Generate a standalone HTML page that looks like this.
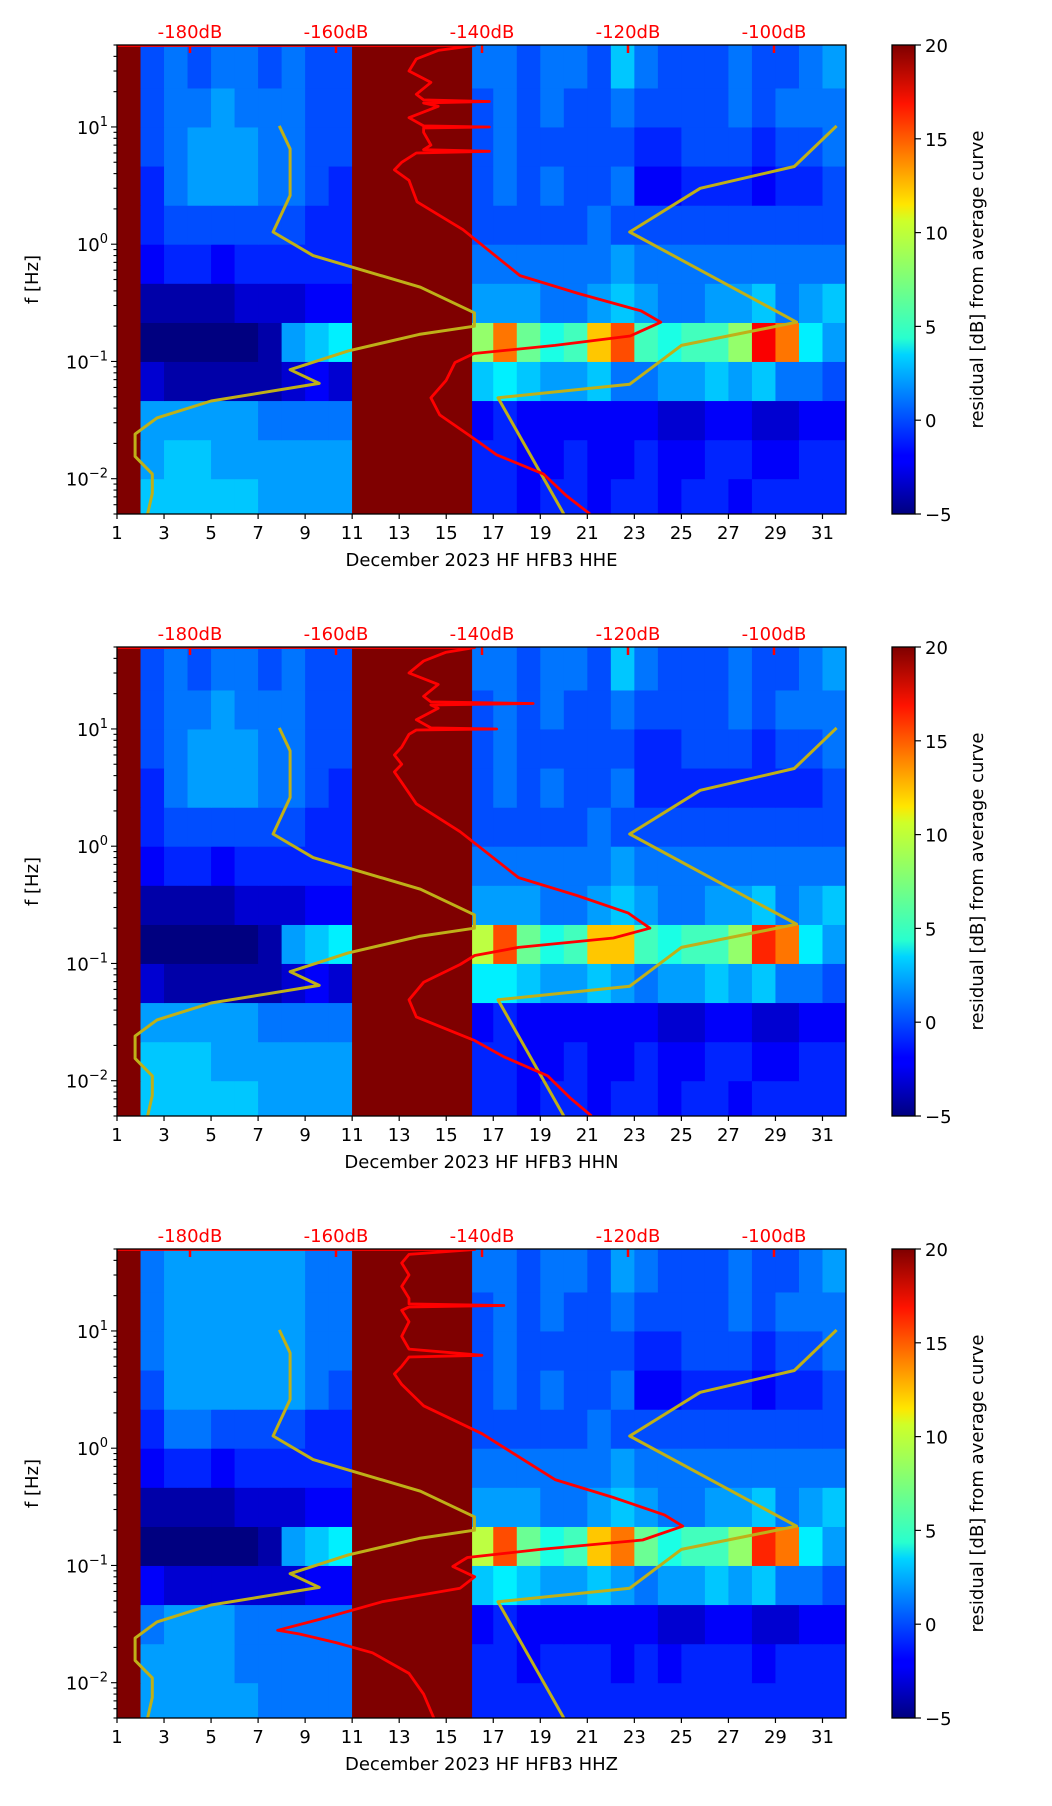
<!DOCTYPE html>
<html><head><meta charset="utf-8"><style>
html,body{margin:0;padding:0;background:#fff;}
svg{display:block;font-family:"DejaVu Sans","Liberation Sans",sans-serif;}
</style></head><body>
<svg id="fig" width="1052" height="1806" viewBox="0 0 1052 1806" xmlns="http://www.w3.org/2000/svg">
<defs>
<linearGradient id="jet" x1="0" y1="1" x2="0" y2="0">
<stop offset="0" stop-color="#00007f"/><stop offset="0.11" stop-color="#0000ff"/><stop offset="0.125" stop-color="#0000ff"/>
<stop offset="0.34" stop-color="#00d4ff"/><stop offset="0.375" stop-color="#29ffce"/><stop offset="0.5" stop-color="#7dff7a"/>
<stop offset="0.625" stop-color="#ceff29"/><stop offset="0.66" stop-color="#ffe600"/><stop offset="0.875" stop-color="#ff1300"/>
<stop offset="1" stop-color="#7f0000"/>
</linearGradient>
</defs>
</svg>
<script>
// ---- data ----
const days = [1,2,3,4,5,6,7,8,9,10,11,12,13,14,15,16,17,18,19,20,21,22,23,24,25,26,27,28,29,30,31];
const bandEdges = [0.005,0.01,0.0215,0.0464,0.1,0.215,0.464,1,2.15,4.64,10,21.5,50];
const channels = ["HHE","HHN","HHZ"];
const xTicks = [1,3,5,7,9,11,13,15,17,19,21,23,25,27,29,31];
const dbTicks = [-180,-160,-140,-120,-100];
const cbTicks = [-5,0,5,10,15,20];
const maskRanges = [[1,2],[11,16.1]];
const M = 20;
// rows bottom (b0) to top (b11), 31 days each
const gridHHE = [
[M,3,3,3,3,3,2,2,2,2,M,M,M,M,M,-1,-1,-2,-1,-1,-2,-1,-1,-2,-1,-1,-2,-1,-1,-1,-1],
[M,2,3,3,2,2,2,2,2,2,M,M,M,M,M,-1,-1,-2,-2,-1,-2,-2,-1,-2,-2,-1,-1,-2,-2,-1,-1],
[M,2,2,2,2,2,1,1,1,1,M,M,M,M,M,-2,-1,-2,-2,-2,-2,-2,-2,-3,-3,-2,-2,-3,-3,-2,-2],
[M,-3,-4,-4,-4,-4,-4,-3,-2,-3,M,M,M,M,M,3,4,3,2,2,3,1,1,2,2,3,2,3,1,1,0],
[M,-5,-5,-5,-5,-5,-4,2,3,4,M,M,M,M,M,8,14,7,5,6,12,15,6,5,6,6,8,17,14,4,2],
[M,-4,-4,-4,-4,-3,-3,-3,-2,-2,M,M,M,M,M,2,2,2,1,1,2,3,2,1,1,2,2,3,1,2,3],
[M,-2,-1,-1,-2,-1,-1,-1,-1,-1,M,M,M,M,M,1,1,1,1,1,1,2,1,1,1,1,1,1,1,1,1],
[M,-1,0,0,0,0,0,0,-1,-1,M,M,M,M,M,0,0,0,0,0,1,0,0,0,0,0,0,0,0,0,0],
[M,-1,1,2,2,2,1,1,0,-1,M,M,M,M,M,0,1,0,1,0,0,1,-2,-2,-1,-1,-1,-2,-1,-1,0],
[M,0,1,2,2,2,1,1,0,0,M,M,M,M,M,0,1,0,0,0,0,0,-1,-1,0,0,0,-1,0,0,1],
[M,0,1,1,2,1,1,1,0,0,M,M,M,M,M,0,1,0,1,0,0,1,0,0,0,0,1,0,1,1,1],
[M,0,1,0,1,1,0,1,0,0,M,M,M,M,M,1,1,0,1,1,0,3,1,0,0,0,1,0,0,1,2]];
const gridHHN = [
[M,3,3,3,3,3,2,2,2,2,M,M,M,M,M,-1,-1,-2,-1,-1,-2,-1,-1,-2,-1,-1,-2,-1,-1,-1,-1],
[M,3,3,3,2,2,2,2,2,2,M,M,M,M,M,-1,-1,-2,-2,-1,-2,-2,-1,-2,-2,-1,-1,-2,-2,-1,-1],
[M,2,2,2,2,2,1,1,1,1,M,M,M,M,M,-2,-1,-2,-2,-2,-2,-2,-2,-3,-3,-2,-2,-3,-3,-2,-2],
[M,-3,-4,-4,-4,-4,-4,-3,-2,-3,M,M,M,M,M,4,4,3,2,2,3,2,1,2,2,3,2,3,1,1,0],
[M,-5,-5,-5,-5,-5,-4,2,3,4,M,M,M,M,M,9,15,7,5,6,12,12,6,5,6,6,8,16,14,4,2],
[M,-4,-4,-4,-4,-3,-3,-3,-2,-2,M,M,M,M,M,2,2,2,1,1,2,3,2,1,1,2,2,3,1,2,3],
[M,-2,-1,-1,-2,-1,-1,-1,-1,-1,M,M,M,M,M,1,1,1,1,1,1,2,1,1,1,1,1,1,1,1,1],
[M,-1,0,0,0,0,0,0,-1,-1,M,M,M,M,M,0,0,0,0,0,1,0,0,0,0,0,0,0,0,0,0],
[M,-1,1,2,2,2,1,1,0,-1,M,M,M,M,M,0,1,0,1,0,0,1,-1,-1,-1,-1,-1,-1,-1,-1,0],
[M,0,1,2,2,2,1,1,0,0,M,M,M,M,M,0,1,0,0,0,0,0,-1,-1,0,0,0,-1,0,0,1],
[M,0,1,1,2,1,1,1,0,0,M,M,M,M,M,0,1,0,1,0,0,1,0,0,0,0,1,0,1,1,1],
[M,0,1,0,1,1,0,1,0,0,M,M,M,M,M,1,1,0,1,1,0,3,1,0,0,0,1,0,0,1,2]];
const gridHHZ = [
[M,2,2,2,2,2,1,1,1,1,M,M,M,M,M,-1,-1,-1,-1,-1,-1,-1,-1,-1,-1,-1,-1,-1,-1,-1,-1],
[M,2,2,2,2,1,1,1,1,1,M,M,M,M,M,-1,-1,-2,-1,-1,-1,-2,-1,-2,-1,-1,-1,-2,-1,-1,-1],
[M,1,2,2,2,1,1,1,1,1,M,M,M,M,M,-2,-1,-2,-2,-2,-2,-2,-2,-3,-3,-2,-2,-3,-3,-2,-2],
[M,-2,-3,-3,-3,-3,-3,-3,-2,-2,M,M,M,M,M,3,4,3,2,2,3,2,1,2,2,3,2,3,1,1,0],
[M,-5,-5,-5,-5,-5,-4,2,3,4,M,M,M,M,M,9,15,7,5,6,12,14,7,5,6,6,8,16,14,4,2],
[M,-4,-4,-4,-4,-3,-3,-3,-2,-2,M,M,M,M,M,2,2,2,1,1,2,3,2,1,1,2,2,3,1,2,3],
[M,-2,-1,-1,-2,-1,-1,-1,-1,-1,M,M,M,M,M,1,1,1,1,1,1,2,1,1,1,1,1,1,1,1,1],
[M,-1,1,1,0,0,0,0,-1,-1,M,M,M,M,M,0,0,0,0,0,1,0,0,0,0,0,0,0,0,0,0],
[M,0,2,2,2,2,2,2,1,0,M,M,M,M,M,0,1,0,1,0,0,1,-2,-2,-1,-1,-1,-2,-1,-1,0],
[M,1,2,2,2,2,2,2,1,1,M,M,M,M,M,0,1,0,0,0,0,0,-1,-1,0,0,0,-1,0,0,1],
[M,1,2,2,2,2,2,2,1,1,M,M,M,M,M,0,1,0,1,0,0,1,0,0,0,0,1,0,1,1,1],
[M,1,2,2,2,2,2,2,1,1,M,M,M,M,M,1,1,0,1,1,0,2,1,0,0,0,1,0,0,1,2]];
const grids = [gridHHE, gridHHN, gridHHZ];

// red average dB profile (dB vs frequency)
const redF_HHE = [49.5,49.5,45,38,30,24,19,17,16.5,16,15,12,10.2,10,9.8,9,7,6.4,6.2,6,5,4.3,3.5,2.3,1.33,0.54,0.38,0.27,0.216,0.165,0.137,0.117,0.098,0.069,0.049,0.035,0.022,0.016,0.011,0.0072,0.005];
const redDB_HHE = [-195,-141,-146,-149,-150,-147,-149,-148,-139,-148,-146,-150,-148,-139,-148,-148,-147,-148,-139,-149,-151,-152,-150,-148.9,-142.6,-134.8,-126.8,-118.2,-115.5,-119.7,-130,-141.1,-143.7,-144.9,-147,-145.8,-141.1,-138,-131.6,-128.5,-125.2];
const redF_HHN = [49.5,49.5,45,38,30,24,19,17,16.5,16,15,12,10.2,10,9.8,9,7,6,5,4.3,3.5,2.3,1.33,0.54,0.38,0.27,0.2,0.165,0.137,0.117,0.098,0.069,0.049,0.035,0.022,0.016,0.011,0.0072,0.005];
const redDB_HHN = [-195,-141,-145,-148,-150,-146,-148,-147,-133,-147,-146,-149,-147,-138,-149,-150,-151,-152,-151,-152,-151,-149,-143,-135,-127,-120,-117,-122,-135,-141,-143,-148,-150,-149,-141,-137,-131,-128,-125];
const redF_HHZ = [49.5,49.5,45,38,30,24,19,17,16.5,16,15,12,9,7,6.2,6,5,4.3,3.5,2.3,1.33,0.54,0.38,0.27,0.216,0.165,0.137,0.117,0.098,0.08,0.064,0.049,0.035,0.028,0.026,0.022,0.018,0.012,0.008,0.005];
const redDB_HHZ = [-195,-141,-150,-151,-150,-151,-150,-150,-137,-150,-151,-150,-151,-150,-140,-150,-151,-152,-151,-148,-140,-130,-122,-115,-112.5,-118,-132,-142,-144,-141,-143,-153.7,-162,-168,-165,-160,-155,-150,-148,-146.6];
const redF = [redF_HHE, redF_HHN, redF_HHZ];
const redDB = [redDB_HHE, redDB_HHN, redDB_HHZ];

// olive reference curves (day axis vs frequency)
const yelA_day = [7.9,8.36,8.36,7.64,9.34,13.9,16.2,16.2,13.85,10.83,8.36,9.6,5.0,2.7,1.77,1.77,2.5,2.5,2.3];
const yelA_f   = [10.2,6.5,2.6,1.27,0.8,0.43,0.26,0.2,0.17,0.123,0.085,0.065,0.046,0.033,0.024,0.0155,0.011,0.0075,0.005];
const yelB_day = [20.0,17.2,22.8,25.0,29.9,22.8,25.8,29.8,31.6];
const yelB_f   = [0.005,0.049,0.064,0.137,0.216,1.27,3.0,4.6,10.2];

// ---- layout ----
const svg = document.getElementById('fig');
const NS = 'http://www.w3.org/2000/svg';
const L = 117, R = 846, H = 469, tops = [45,647,1249];
const FMIN = 0.005, FMAX = 50, DMIN = 1, DMAX = 32;
const xDay = d => L + (d - DMIN) / (DMAX - DMIN) * (R - L);
const yF = (t, f) => t + (Math.log10(FMAX) - Math.log10(f)) / (Math.log10(FMAX) - Math.log10(FMIN)) * H;
const xDB = db => 190 + (db + 180) * 7.3;
function jet(v){
  let t = (v + 5) / 25; t = Math.max(0, Math.min(1, t));
  const c = x => Math.round(255 * Math.max(0, Math.min(1, 1.5 - Math.abs(4 * t - x))));
  return `rgb(${c(3)},${c(2)},${c(1)})`;
}
function el(tag, attrs, parent){
  const e = document.createElementNS(NS, tag);
  for (const k in attrs) e.setAttribute(k, attrs[k]);
  (parent || svg).appendChild(e);
  return e;
}
function txt(s, attrs, parent){ const e = el('text', attrs, parent); e.textContent = s; return e; }

tops.forEach((T, p) => {
  const g = el('g', {});
  
  
  const clipId = 'clip' + p;
  const cp = el('clipPath', {id: clipId}, g);
  el('rect', {x: L, y: T, width: R - L, height: H}, cp);
  const plot = el('g', {'clip-path': `url(#${clipId})`}, g);
  const grid = grids[p];
  grid.forEach((row, b) => {
    row.forEach((v, i) => {
      const c = el('rect', {x: xDay(days[i]), y: yF(T, bandEdges[b + 1]), width: xDay(days[i] + 1) - xDay(days[i]) + 0.5, height: yF(T, bandEdges[b]) - yF(T, bandEdges[b + 1]) + 0.5, fill: jet(v)}, plot);
      
      
    });
  });
  maskRanges.forEach(m => {
    const r = el('rect', {x: xDay(m[0]), y: T, width: xDay(m[1]) - xDay(m[0]), height: H, fill: '#7f0000'}, plot);
    
    
  });
  [[yelA_day, yelA_f], [yelB_day, yelB_f]].forEach((c, k) => {
    const pts = c[0].map((d, i) => xDay(d).toFixed(1) + ',' + yF(T, c[1][i]).toFixed(1)).join(' ');
    const pl = el('polyline', {points: pts, fill: 'none', stroke: '#bfb018', 'stroke-width': 3, 'stroke-linejoin': 'round'}, plot);
    
    
  });
  const rpts = redDB[p].map((d, i) => xDB(d).toFixed(1) + ',' + yF(T, redF[p][i]).toFixed(1)).join(' ');
  const rl = el('polyline', {points: rpts, fill: 'none', stroke: '#ff0000', 'stroke-width': 2.8, 'stroke-linejoin': 'round'}, plot);
  
  
  dbTicks.forEach(d => {
    el('line', {x1: xDB(d), x2: xDB(d), y1: T, y2: T + 8, stroke: '#ff0000', 'stroke-width': 2.5}, plot);
    const lt = txt(d + 'dB', {x: xDB(d), y: T - 7, 'text-anchor': 'middle', 'font-size': 18, fill: '#ff0000'}, g);
    
    
  });
  el('rect', {x: L, y: T, width: R - L, height: H, fill: 'none', stroke: '#000', 'stroke-width': 1.3}, g);
  xTicks.forEach(d => {
    el('line', {x1: xDay(d), x2: xDay(d), y1: T + H, y2: T + H + 5, stroke: '#000', 'stroke-width': 1.2}, g);
    const t = txt(String(d), {x: xDay(d), y: T + H + 25, 'text-anchor': 'middle', 'font-size': 18}, g);
    
    
  });
  for (let e = -3; e <= 1; e++) {
    for (let m = 1; m <= 9; m++) {
      const f = m * Math.pow(10, e);
      if (f < FMIN || f > FMAX) continue;
      const y = yF(T, f);
      el('line', {x1: L - (m === 1 ? 6 : 3.5), x2: L, y1: y, y2: y, stroke: '#000', 'stroke-width': 1.1}, g);
      if (m === 1) {
        const t = el('text', {x: L - 9, y: y + 7, 'text-anchor': 'end', 'font-size': 18}, g);
        
        
        const a = el('tspan', {}, t); a.textContent = '10';
        const s = el('tspan', {dy: -8, 'font-size': 13}, t); s.textContent = e < 0 ? '\u2212' + (-e) : String(e);
      }
    }
  }
  const yt = txt('f [Hz]', {x: 38, y: T + H / 2, 'text-anchor': 'middle', 'font-size': 18, transform: `rotate(-90 38 ${T + H / 2})`}, g);
  
  
  const xt = txt('December 2023 HF HFB3  ' + channels[p], {x: (L + R) / 2, y: T + H + 52, 'text-anchor': 'middle', 'font-size': 18}, g);
  
  
  const cb = el('rect', {x: 892, y: T, width: 23, height: H, fill: 'url(#jet)', stroke: '#000', 'stroke-width': 1.3}, g);
  
  
  cbTicks.forEach(v => {
    const y = T + H - (v + 5) / 25 * H;
    el('line', {x1: 915, x2: 921, y1: y, y2: y, stroke: '#000', 'stroke-width': 1.2}, g);
    const t = txt(v < 0 ? '\u2212' + (-v) : String(v), {x: 925, y: y + 7, 'font-size': 18}, g);
    
    
  });
  const cl = txt('residual [dB] from average curve', {x: 983, y: T + H / 2, 'text-anchor': 'middle', 'font-size': 18, transform: `rotate(-90 983 ${T + H / 2})`}, g);
  
  
});
</script>
</body></html>
